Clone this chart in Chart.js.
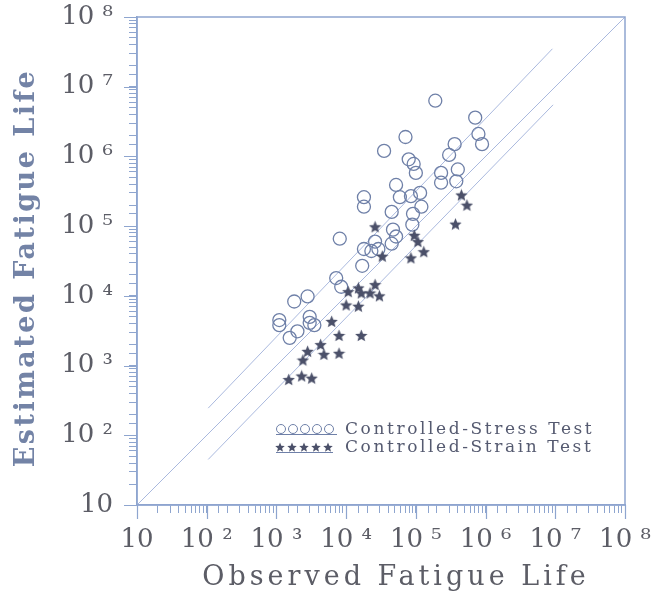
<!DOCTYPE html>
<html>
<head>
<meta charset="utf-8">
<script src="https://cdn.jsdelivr.net/npm/chart.js@4.4.1/dist/chart.umd.min.js"></script>
<style>
  html, body { margin: 0; padding: 0; background: #ffffff; }
  #wrap { position: relative; width: 657px; height: 604px; }
</style>
</head>
<body>
<div id="wrap"><canvas id="fatigueChart"></canvas></div>
<script>
// observed vs estimated fatigue life
let stressObserved = [1.9e5, 7.1e5, 7.9e5, 8.9e5, 3.6e5, 3.0e5, 4.0e5, 3.8e5, 2.3e5, 2.3e5,
  7.1e4, 3.5e4, 7.9e4, 9.3e4, 1.0e5, 5.2e4, 5.9e4, 8.5e4, 1.15e5, 1.8e4,
  1.8e4, 1.2e5, 4.5e4, 9.1e4, 8.9e4, 4.7e4, 5.2e4, 4.5e4, 8.1e3, 1.8e4,
  2.3e4, 2.9e4, 2.6e4, 1.7e4, 7.2e3, 8.5e3, 2.8e3, 1.8e3, 3.0e3, 3.0e3,
  3.5e3, 1.1e3, 1.1e3, 2.0e3, 1.55e3];
let stressEstimated = [6.3e6, 3.6e6, 2.1e6, 1.5e6, 1.5e6, 1.05e6, 6.5e5, 4.4e5, 5.8e5, 4.2e5,
  1.9e6, 1.2e6, 9.1e5, 7.8e5, 5.8e5, 3.9e5, 2.6e5, 2.7e5, 3.0e5, 2.6e5,
  1.9e5, 1.9e5, 1.6e5, 1.5e5, 1.05e5, 8.9e4, 7.1e4, 5.6e4, 6.6e4, 4.7e4,
  4.4e4, 4.7e4, 6.0e4, 2.7e4, 1.8e4, 1.35e4, 9.8e3, 8.3e3, 5.0e3, 4.1e3,
  3.8e3, 4.5e3, 3.8e3, 3.1e3, 2.5e3];

let strainObserved = [4.5e5, 5.4e5, 3.7e5, 2.6e4, 9.5e4, 1.07e5, 1.3e5, 8.5e4, 3.3e4, 2.6e4,
  1.07e4, 1.5e4, 1.65e4, 2.2e4, 3.0e4, 1.0e4, 1.5e4, 6.2e3, 7.9e3, 1.65e4,
  4.3e3, 4.8e3, 7.9e3, 2.8e3, 2.4e3, 1.5e3, 2.3e3, 3.2e3];
let strainEstimated = [2.8e5, 2.0e5, 1.07e5, 9.8e4, 7.4e4, 6.0e4, 4.3e4, 3.5e4, 3.7e4, 1.45e4,
  1.15e4, 1.3e4, 1.1e4, 1.1e4, 1.0e4, 7.4e3, 7.1e3, 4.3e3, 2.7e3, 2.7e3,
  2.0e3, 1.45e3, 1.5e3, 1.6e3, 1.2e3, 630, 710, 660];

// reference lines: 1:1 line and the upper / lower bounds
let equalityLine = [[10, 10], [1e8, 1e8]];
let upperBound = [[1.05e2, 2.45e2], [9.1e6, 3.5e7]];
let lowerBound = [[1.05e2, 45], [9.3e6, 5.5e6]];

let tickValues = [10, 1e2, 1e3, 1e4, 1e5, 1e6, 1e7, 1e8];
let tickLabels = ["10", "10 ²", "10 ³", "10 ⁴", "10 ⁵", "10 ⁶", "10 ⁷", "10 ⁸"];

let seriesNames = ["Controlled-Stress Test", "Controlled-Strain Test"];
let xTitle = "Observed Fatigue Life";
let yTitle = "Estimated Fatigue Life";

let axisColor = "#8ea5cf";
let lineColor = "#aab9de";
let circleColor = "#6f80a8";
let starColor = "#4b5069";
let textColor = "#5c5d66";

function toPoints(xs, ys) {
    return xs.map((x, i) => ({ x: x, y: ys[i] }));
}

function pairsToPoints(pairs) {
    return pairs.map(p => ({ x: p[0], y: p[1] }));
}

// filled five point star used as point style
function makeStar(size, color) {
    let c = document.createElement("canvas");
    c.width = size;
    c.height = size;
    let g = c.getContext("2d");
    let outer = size / 2;
    let inner = outer * 0.45;
    g.beginPath();
    for (let i = 0; i < 10; i++) {
        let r = i % 2 === 0 ? outer : inner;
        let a = -Math.PI / 2 + i * Math.PI / 5;
        let px = outer + r * Math.cos(a);
        let py = outer + 0.6 + r * Math.sin(a);
        if (i === 0) g.moveTo(px, py); else g.lineTo(px, py);
    }
    g.closePath();
    g.fillStyle = color;
    g.fill();
    return c;
}

let starImage = makeStar(13, starColor);
let smallStar = makeStar(10, starColor);

function tickText(value) {
    let e = Math.log10(value);
    if (Math.abs(e - Math.round(e)) > 1e-6) return "";
    let idx = tickValues.findIndex(v => Math.abs(Math.log10(v) - e) < 1e-6);
    return idx >= 0 ? tickLabels[idx] : "";
}

// box round the plot, longer decade ticks, axis titles and the legend
let decorPlugin = {
    id: "decor",
    afterDraw(chart) {
        let ctx = chart.ctx;
        let a = chart.chartArea;
        let xs = chart.scales.x;
        let ys = chart.scales.y;
        ctx.save();
        ctx.strokeStyle = axisColor;
        ctx.lineWidth = 1.5;
        ctx.strokeRect(a.left, a.top, a.right - a.left, a.bottom - a.top);

        ctx.lineWidth = 1.2;
        ctx.beginPath();
        tickValues.forEach(v => {
            let px = Math.round(xs.getPixelForValue(v)) + 0.5;
            ctx.moveTo(px, a.bottom);
            ctx.lineTo(px, a.bottom + 14);
            let py = Math.round(ys.getPixelForValue(v)) + 0.5;
            ctx.moveTo(a.left, py);
            ctx.lineTo(a.left - 13, py);
        });
        ctx.stroke();

        ctx.fillStyle = textColor;
        ctx.font = "27px 'DejaVu Serif'";
        ctx.letterSpacing = "4px";
        ctx.textAlign = "center";
        ctx.textBaseline = "middle";
        ctx.fillText(xTitle, 396, 578);

        ctx.save();
        ctx.translate(27, 268);
        ctx.rotate(-Math.PI / 2);
        ctx.fillStyle = "#7383a6";
        ctx.font = "bold 27px 'DejaVu Serif'";
        ctx.letterSpacing = "2.5px";
        ctx.fillText(yTitle, 0, 0);
        ctx.restore();

        // legend
        ctx.letterSpacing = "2.6px";
        ctx.font = "17px 'DejaVu Serif'";
        ctx.textAlign = "left";
        ctx.fillStyle = "#555a70";
        ctx.fillText(seriesNames[0], 345, 430);
        ctx.fillText(seriesNames[1], 345, 448);

        ctx.strokeStyle = circleColor;
        ctx.lineWidth = 1;
        for (let i = 0; i < 5; i++) {
            ctx.beginPath();
            ctx.arc(281 + i * 12, 429, 4.5, 0, Math.PI * 2);
            ctx.stroke();
        }
        for (let i = 0; i < 5; i++) {
            ctx.drawImage(smallStar, 275 + i * 12, 442);
        }
        ctx.beginPath();
        ctx.moveTo(276, 434.5); ctx.lineTo(337, 434.5);
        ctx.moveTo(276, 452.5); ctx.lineTo(333, 452.5);
        ctx.stroke();
        ctx.restore();
    }
};

function refLine(pairs) {
    return {
        type: "line",
        data: pairsToPoints(pairs),
        borderColor: lineColor,
        borderWidth: 1,
        pointRadius: 0,
        fill: false,
        order: 3
    };
}

let logAxis = function (position) {
    return {
        type: "logarithmic",
        position: position,
        min: 10,
        max: 1e8,
        border: { display: true, color: axisColor, width: 1.5 },
        grid: {
            display: true,
            drawOnChartArea: false,
            drawTicks: true,
            tickLength: 8,
            color: axisColor,
            tickColor: axisColor,
            lineWidth: 1
        },
        ticks: {
            autoSkip: false,
            maxRotation: 0,
            color: textColor,
            font: { family: "DejaVu Serif", size: 26 },
            padding: position === "left" ? 16 : 12,
            callback: tickText
        },
        afterFit: function (scale) {
            if (position === "left") {
                scale.width = 137;
                scale.paddingTop = 0;
                scale.paddingBottom = 0;
            } else {
                scale.height = 99;
                scale.paddingLeft = 0;
                scale.paddingRight = 0;
            }
        }
    };
};

let ctx = document.getElementById("fatigueChart").getContext("2d");
let chart = new Chart(ctx, {
    type: "scatter",
    data: {
        datasets: [
            refLine(equalityLine),
            refLine(upperBound),
            refLine(lowerBound),
            {
                label: seriesNames[0],
                data: toPoints(stressObserved, stressEstimated),
                pointStyle: "circle",
                pointRadius: 6.5,
                backgroundColor: "rgba(255,255,255,0)",
                borderColor: circleColor,
                borderWidth: 1.3,
                order: 2
            },
            {
                label: seriesNames[1],
                data: toPoints(strainObserved, strainEstimated),
                pointStyle: starImage,
                pointRadius: 6.5,
                order: 1
            }
        ]
    },
    options: {
        responsive: true,
        maintainAspectRatio: false,
        animation: false,
        layout: { padding: { top: 17, right: 32, left: 0, bottom: 0 } },
        plugins: {
            legend: { display: false },
            tooltip: { enabled: false }
        },
        scales: {
            x: logAxis("bottom"),
            y: logAxis("left")
        }
    },
    plugins: [decorPlugin]
});
</script>
</body>
</html>
